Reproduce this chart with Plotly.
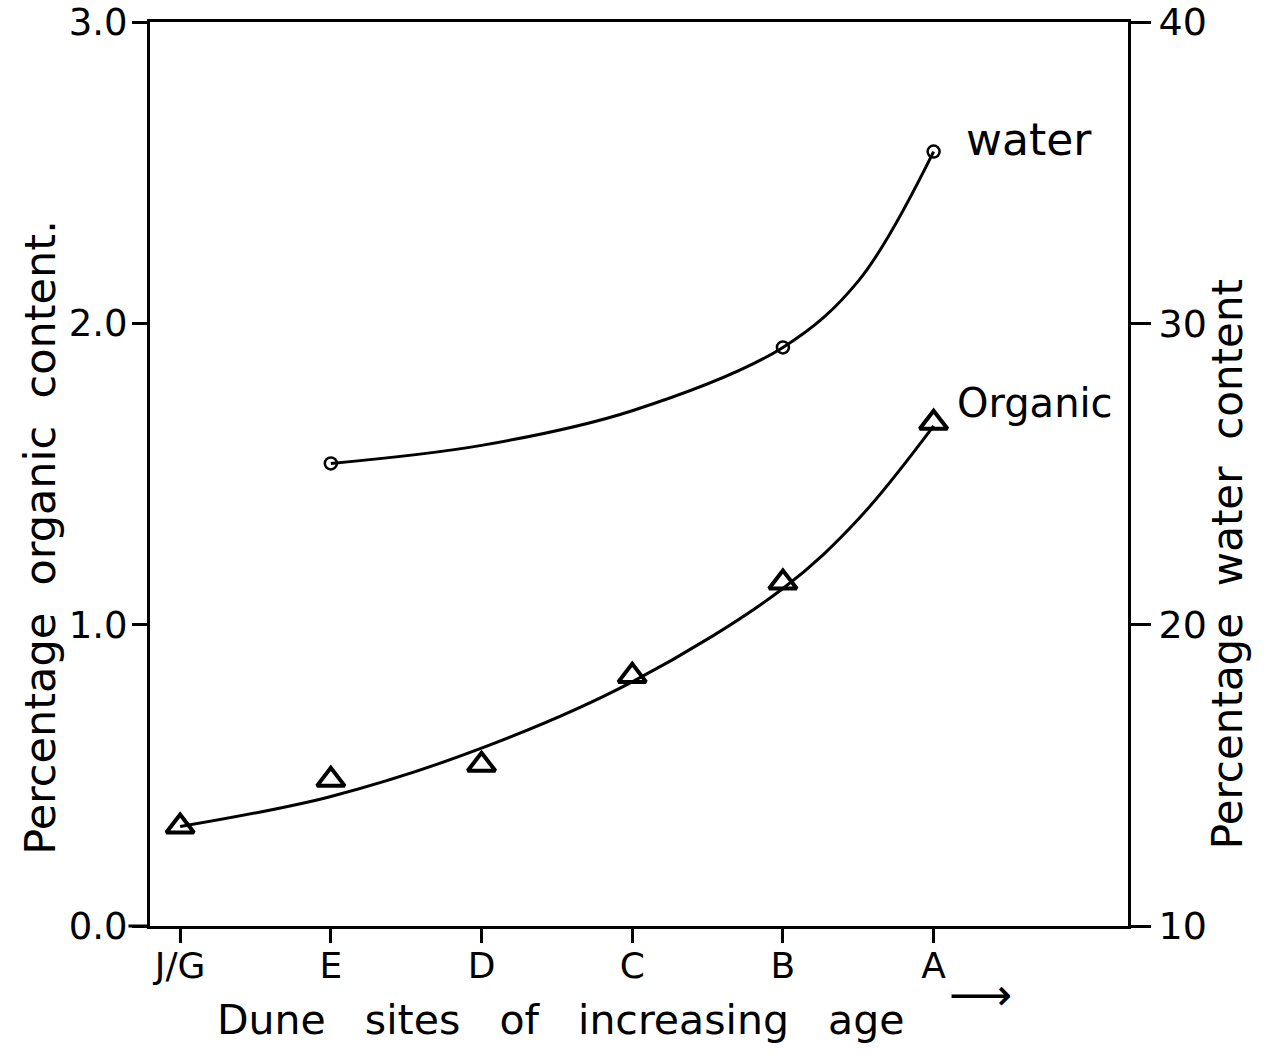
import plotly.graph_objects as go

# Dune sites, youngest to oldest
sites = ["J/G", "E", "D", "C", "B", "A"]
site_pos = [0, 1, 2, 3, 4, 5]

# Measured organic content (%) at each site (triangles)
organic = [0.33, 0.485, 0.535, 0.83, 1.14, 1.67]

# Measured water content (%) at sites E, B, A (circles)
water_pos = [1, 4, 5]
water = [25.35, 29.2, 35.7]

# Hand-drawn smooth curves
organic_curve_pos = [0, 1, 2, 3, 4, 4.5, 5]
organic_curve = [0.33, 0.43, 0.59, 0.81, 1.12, 1.35, 1.66]
water_curve_pos = [1, 2, 3, 4, 4.5, 5]
water_curve = [25.35, 25.95, 27.1, 29.2, 31.4, 35.7]

FONT = "DejaVu Sans"
INK = "black"

fig = go.Figure()

# Organic curve + points (left axis)
fig.add_trace(go.Scatter(
    x=organic_curve_pos, y=organic_curve, mode="lines",
    line=dict(color=INK, width=3, shape="spline", smoothing=1.0),
    hoverinfo="skip",
))
fig.add_trace(go.Scatter(
    x=site_pos, y=organic, mode="markers", name="Organic",
    marker=dict(symbol="triangle-up-open", size=24, color=INK, line=dict(width=4)),
))

# Water curve + points (right axis)
fig.add_trace(go.Scatter(
    x=water_curve_pos, y=water_curve, mode="lines", yaxis="y2",
    line=dict(color=INK, width=3, shape="spline", smoothing=1.0),
    hoverinfo="skip",
))
fig.add_trace(go.Scatter(
    x=water_pos, y=water, mode="markers", yaxis="y2", name="Water",
    marker=dict(symbol="circle-open", size=12, color=INK, line=dict(width=2.5)),
))

fig.update_layout(
    width=1266, height=1060,
    margin=dict(l=150, r=138, t=22, b=134),
    plot_bgcolor="white", paper_bgcolor="white",
    showlegend=False,
    font=dict(family=FONT, color=INK, size=34),
    xaxis=dict(
        range=[-0.2, 6.29], tickvals=site_pos, ticktext=sites,
        showline=True, linecolor=INK, linewidth=3, mirror=True,
        ticks="outside", ticklen=14, tickwidth=3, tickcolor=INK,
        showgrid=False, zeroline=False, automargin=False,
        ticklabelstandoff=-8, tickfont=dict(size=36),
    ),
    yaxis=dict(
        range=[0, 3], tickvals=[0, 1, 2, 3], ticktext=["0.0", "1.0", "2.0", "3.0"],
        showline=True, linecolor=INK, linewidth=3,
        ticks="outside", ticklen=15, tickwidth=3, tickcolor=INK,
        showgrid=False, zeroline=False, automargin=False,
        ticklabelstandoff=-3, ticklabeloverflow="allow", tickfont=dict(size=37),
    ),
    yaxis2=dict(
        range=[10, 40], tickvals=[10, 20, 30, 40],
        overlaying="y", side="right",
        showline=True, linecolor=INK, linewidth=3,
        ticks="outside", ticklen=20, tickwidth=3, tickcolor=INK,
        showgrid=False, zeroline=False, automargin=False,
        ticklabeloverflow="allow", tickfont=dict(size=38),
    ),
)

# x axis line runs a little past the left axis
fig.add_shape(type="line", xref="paper", yref="paper", x0=-0.022, x1=0, y0=0, y1=0,
              line=dict(color=INK, width=3))

# axis titles and curve labels
fig.add_annotation(text="Percentage  organic  content.", xref="paper", yref="paper",
                   x=-0.112, y=0.43, textangle=-90, showarrow=False,
                   font=dict(size=43), xanchor="center", yanchor="middle")
fig.add_annotation(text="Percentage  water  content", xref="paper", yref="paper",
                   x=1.102, y=0.40, textangle=-90, showarrow=False,
                   font=dict(size=42), xanchor="center", yanchor="middle")
fig.add_annotation(text="Dune   sites   of   increasing   age", xref="paper", yref="paper",
                   x=0.42, y=-0.104, showarrow=False, font=dict(size=41),
                   xanchor="center", yanchor="middle")
fig.add_annotation(text="\u27f6", xref="paper", yref="paper",
                   x=0.849, y=-0.076, showarrow=False, font=dict(size=44),
                   xanchor="center", yanchor="middle")
fig.add_annotation(text="water", x=5.2, y=water[-1], yref="y2", showarrow=False,
                   xanchor="left", yanchor="middle", yshift=12, font=dict(size=44))
fig.add_annotation(text="Organic", x=5.14, y=organic[-1], showarrow=False,
                   xanchor="left", yanchor="middle", yshift=20, font=dict(size=40))

# drop the page's default 8px body margin so the figure sits at the top-left corner
fig.write_html("out.html", config={"displayModeBar": False},
               post_script="document.body.style.margin='0';")
